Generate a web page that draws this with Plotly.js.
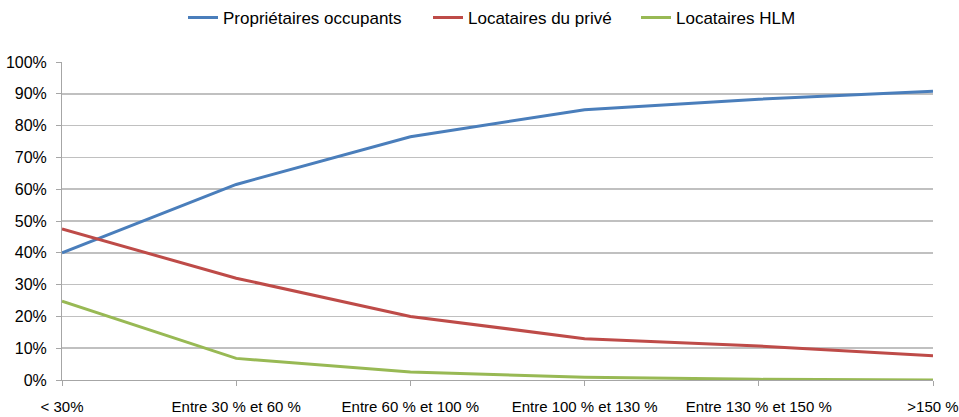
<!DOCTYPE html>
<html>
<head>
<meta charset="utf-8">
<script src="https://cdn.plot.ly/plotly-3.0.1.min.js"></script>
<style>html,body{margin:0;padding:0;background:#fff}#chart{width:959px;height:417px}</style>
</head>
<body>
<div id="chart"></div>
<script>
const categories = ["< 30%", "Entre 30 % et 60 %", "Entre 60 % et 100 %", "Entre 100 % et 130 %", "Entre 130 % et 150 %", ">150 %"];
const proprietaires = [0.40, 0.615, 0.765, 0.85, 0.883, 0.908];
const locatairesPrive = [0.475, 0.32, 0.20, 0.13, 0.107, 0.076];
const locatairesHLM = [0.248, 0.068, 0.025, 0.009, 0.002, 0.0];
const yTicks = [0, 0.1, 0.2, 0.3, 0.4, 0.5, 0.6, 0.7, 0.8, 0.9, 1.0];

const font = "'Liberation Sans', Arial, sans-serif";
const traces = [
  {x: categories, y: proprietaires, name: "Propriétaires occupants", type: "scatter", mode: "lines", line: {color: "#4a7ebb", width: 3}, legend: "legend"},
  {x: categories, y: locatairesPrive, name: "Locataires du privé", type: "scatter", mode: "lines", line: {color: "#be4b48", width: 3}, legend: "legend2"},
  {x: categories, y: locatairesHLM, name: "Locataires HLM", type: "scatter", mode: "lines", line: {color: "#98b954", width: 3}, legend: "legend3"}
];
function leg(xpx) {
  return {orientation: "h", xref: "container", x: xpx / 959, xanchor: "left", yref: "container", y: 0.957, yanchor: "middle", font: {size: 17}, itemwidth: 30, bgcolor: "rgba(0,0,0,0)"};
}
const layout = {
  width: 959, height: 417,
  margin: {l: 62, r: 26, t: 62, b: 37, autoexpand: false},
  paper_bgcolor: "#fff", plot_bgcolor: "#fff",
  font: {family: font, size: 15, color: "#000"},
  showlegend: true,
  legend: leg(183),
  legend2: leg(428),
  legend3: leg(636),
  xaxis: {
    type: "category", range: [0, 5], showgrid: false, zeroline: false,
    showline: true, linecolor: "#a6a6a6", linewidth: 1,
    ticks: "outside", ticklen: 5, tickcolor: "#a6a6a6",
    tickfont: {size: 15}, ticklabelstandoff: 8, fixedrange: true
  },
  yaxis: {
    range: [0, 1.0], tickvals: yTicks, tickformat: ".0%",
    showgrid: true, gridcolor: "#c0c0c0", gridwidth: 1.5, zeroline: false,
    showline: true, linecolor: "#a6a6a6", linewidth: 1,
    ticks: "outside", ticklen: 5, tickcolor: "#a6a6a6",
    tickfont: {size: 16}, ticklabelstandoff: 6, fixedrange: true
  }
};
Plotly.newPlot("chart", traces, layout, {displayModeBar: false, staticPlot: true});
</script>
</body>
</html>
